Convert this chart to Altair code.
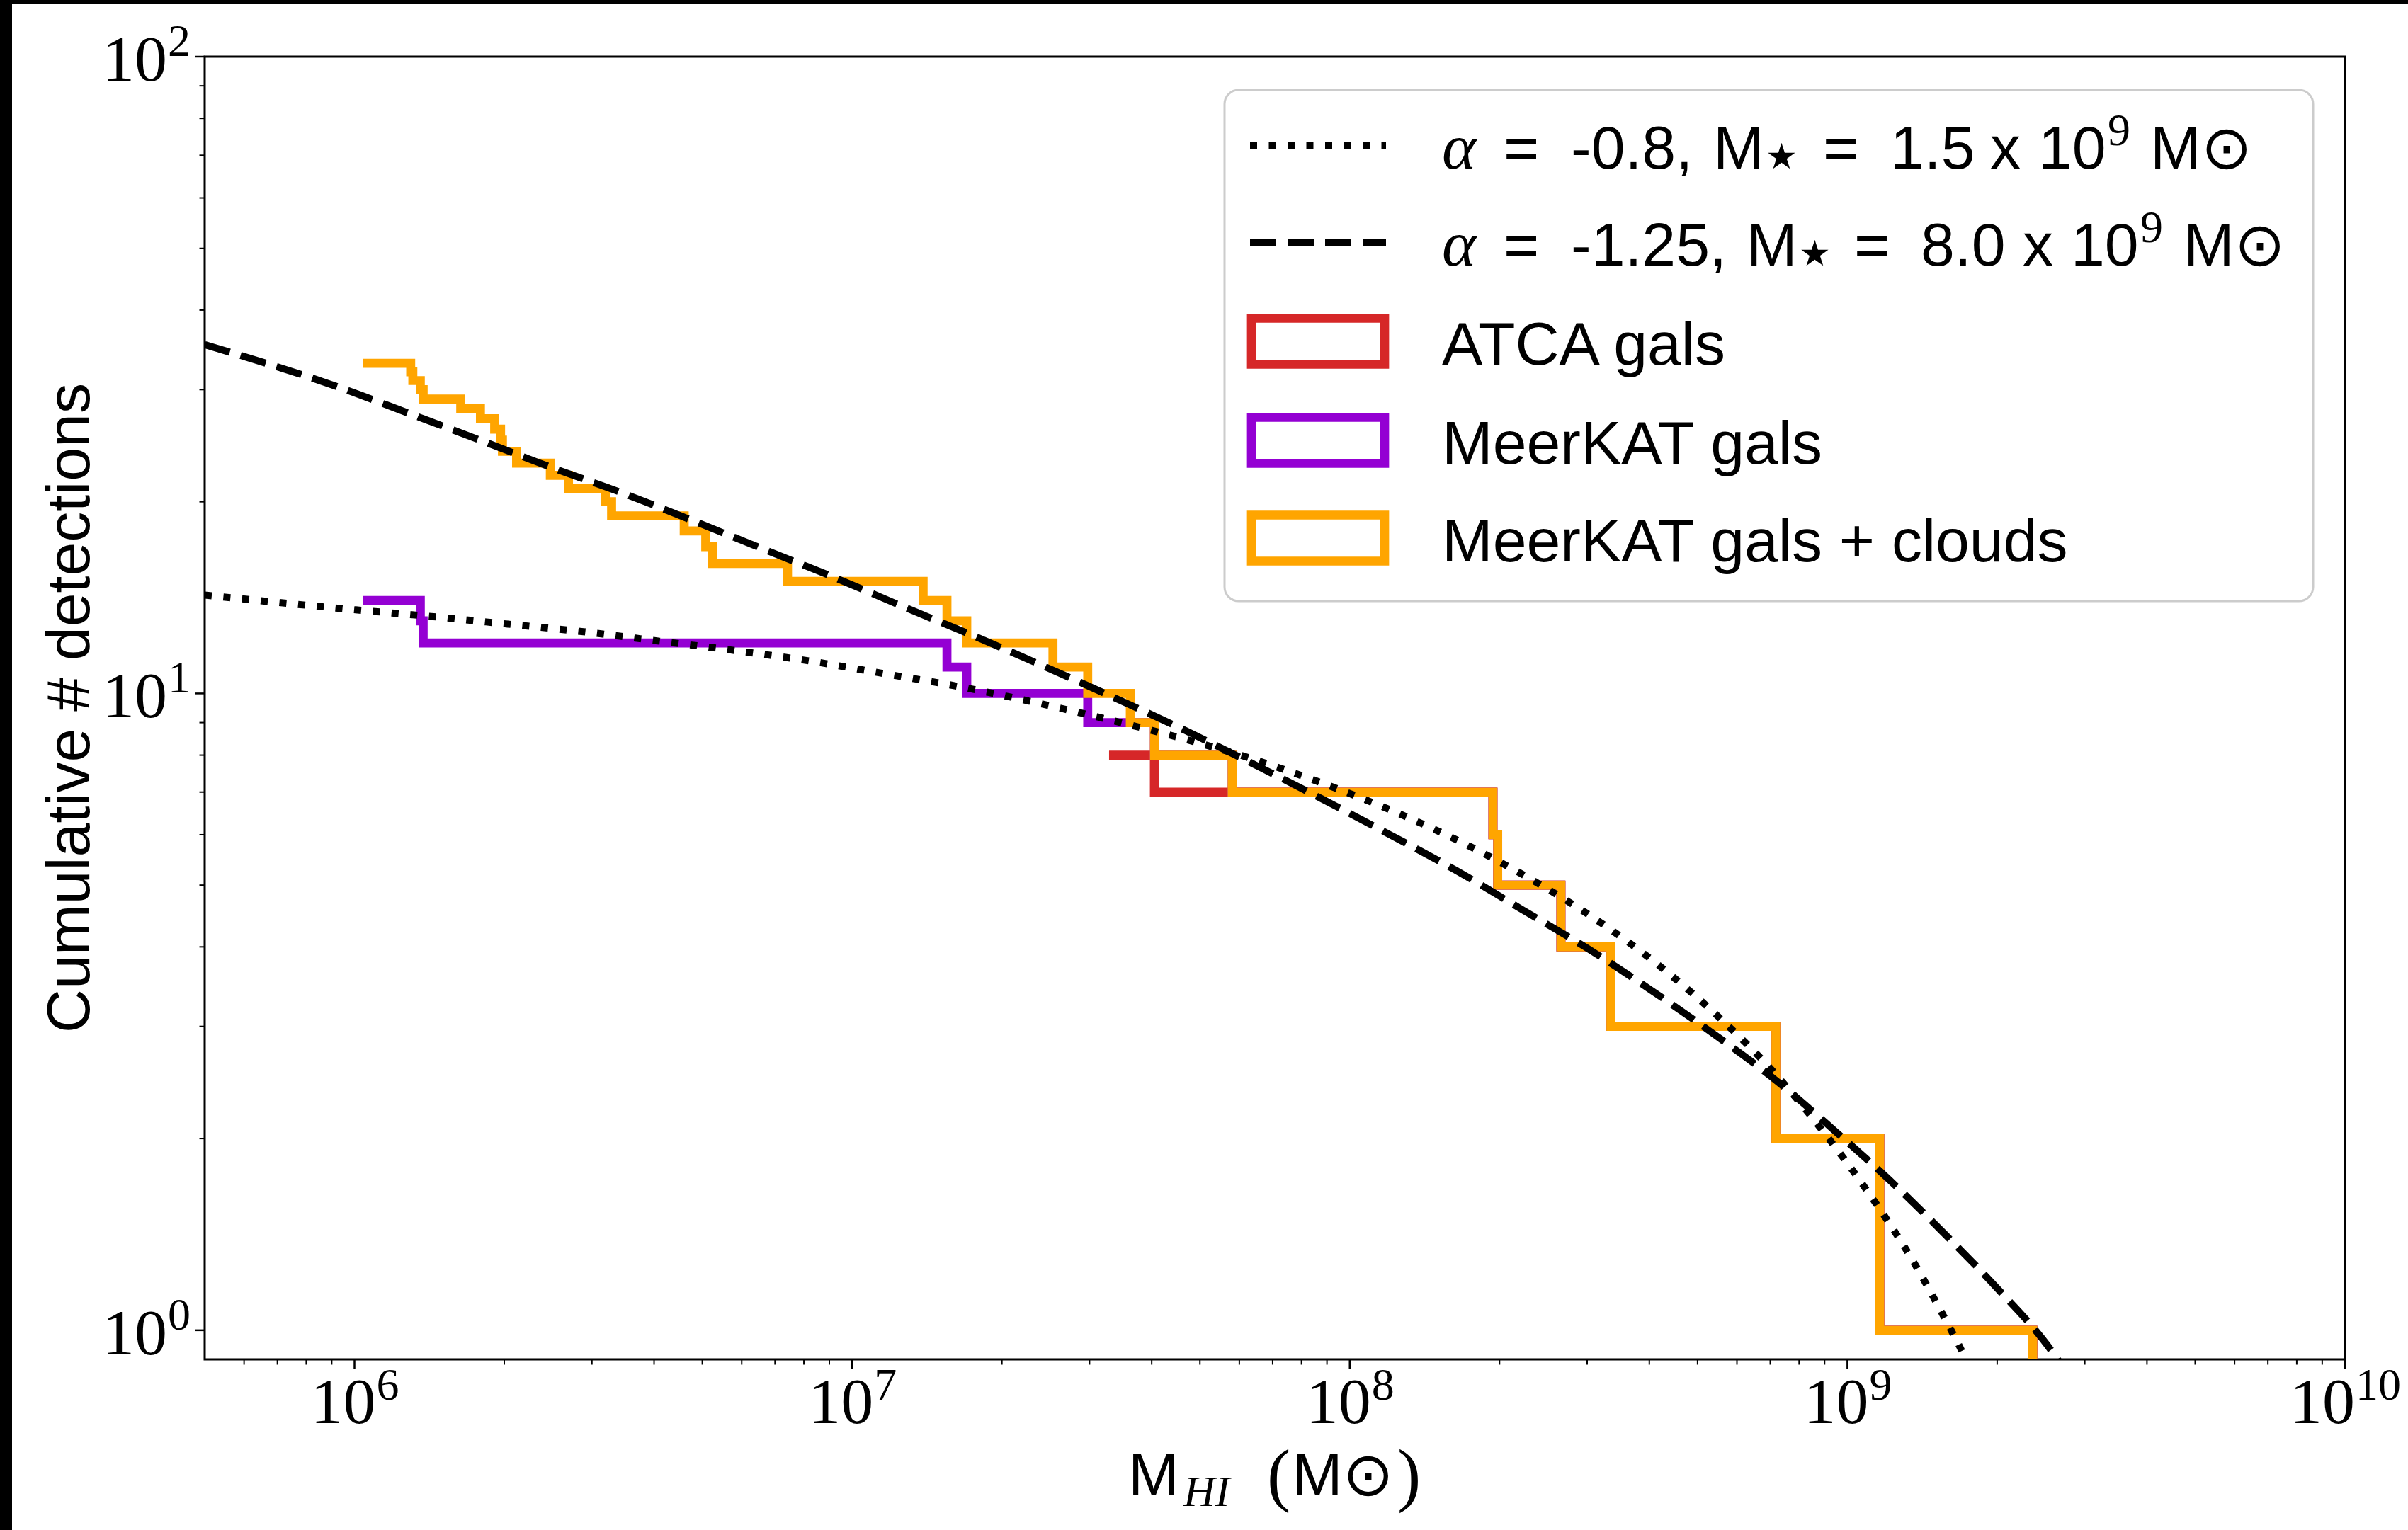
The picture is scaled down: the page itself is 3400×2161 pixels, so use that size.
import altair as alt
import pandas as pd

# ---------------------------------------------------------------------------
# Cumulative number of HI detections N(>M_HI).
# Each list holds the mass (M_sun) at which a count level begins, and the level.
# ---------------------------------------------------------------------------
clouds_mass = [1.04e6, 1.297e6, 1.31e6, 1.356e6, 1.374e6, 1.635e6, 1.791e6, 1.913e6,
               1.966e6, 1.983e6, 2.117e6, 2.475e6, 2.692e6, 3.198e6, 3.286e6, 4.598e6,
               5.08e6, 5.24e6, 7.417e6, 1.389e7, 1.551e7, 1.70e7, 2.533e7, 2.975e7,
               3.623e7, 4.05e7, 5.804e7, 1.94e8, 1.983e8, 2.657e8, 3.348e8, 7.184e8, 1.162e9]
clouds_count = [33, 32, 31, 30, 29, 28, 27, 26, 25, 24, 23, 22, 21, 20, 19, 18, 17,
                16, 15, 14, 13, 12, 11, 10, 9, 8, 7, 6, 5, 4, 3, 2, 1]

gals_mass = [1.04e6, 1.356e6, 1.374e6, 1.551e7, 1.70e7, 2.975e7, 4.05e7, 5.804e7,
             1.94e8, 1.983e8, 2.657e8, 3.348e8, 7.184e8, 1.162e9]
gals_count = [14, 13, 12, 11, 10, 9, 8, 7, 6, 5, 4, 3, 2, 1]

atca_mass = [3.284e7, 4.05e7, 1.94e8, 1.983e8, 2.657e8, 3.348e8, 7.184e8, 1.162e9]
atca_count = [8, 7, 6, 5, 4, 3, 2, 1]

# upper edge of the last (most massive) bin, shared by all three samples
last_edge = 2.359e9

# Schechter-function predictions (cumulative), sampled along each curve
dotted_mass = [5.0e5, 1.006e6, 1.426e6, 2.034e6, 2.884e6, 4.10e6, 5.81e6, 8.25e6,
               1.169e7, 1.654e7, 2.333e7, 3.291e7, 4.628e7, 6.477e7, 9.064e7, 1.254e8,
               1.730e8, 2.361e8, 3.188e8, 4.236e8, 5.523e8, 7.073e8, 8.868e8, 1.097e9,
               1.330e9, 1.579e9, 1.713e9, 1.76e9]
dotted_n = [14.27, 13.53, 13.21, 12.85, 12.50, 12.08, 11.68, 11.24, 10.73, 10.24, 9.68,
            9.09, 8.49, 7.86, 7.17, 6.48, 5.77, 5.06, 4.37, 3.71, 3.10, 2.555, 2.069,
            1.654, 1.316, 1.035, 0.914, 0.87]

dashed_mass = [5.0e5, 9.54e5, 1.285e6, 1.788e6, 2.491e6, 3.468e6, 4.817e6, 6.683e6,
               9.285e6, 1.280e7, 1.780e7, 2.456e7, 3.372e7, 4.667e7, 6.42e7, 8.76e7,
               1.200e8, 1.638e8, 2.217e8, 3.002e8, 4.033e8, 5.385e8, 7.131e8, 9.346e8,
               1.217e9, 1.565e9, 1.996e9, 2.516e9, 2.70e9]
dashed_n = [35.3, 30.05, 27.54, 24.99, 22.63, 20.62, 18.64, 16.81, 15.17, 13.64, 12.26,
            10.99, 9.84, 8.75, 7.74, 6.84, 6.01, 5.27, 4.58, 3.98, 3.42, 2.92, 2.48, 2.07,
            1.72, 1.419, 1.166, 0.950, 0.88]

# axis ticks
x_major = [1e6, 1e7, 1e8, 1e9, 1e10]
x_exp = ["6", "7", "8", "9", "10"]
y_major = [1, 10, 100]
y_exp = ["0", "1", "2"]
x_minor = [k * 10.0 ** e for e in range(5, 10) for k in range(2, 10) if 5e5 < k * 10.0 ** e < 1e10]
y_minor = [k * 10.0 ** e for e in range(0, 2) for k in range(2, 10)]

# legend text; the two model entries are set piece by piece (math-style)
model_pieces = [
    ["=", "-0.8,", "M", "★", "=", "1.5", "x", "10", "9", "M⊙"],
    ["=", "-1.25,", "M", "★", "=", "8.0", "x", "10", "9", "M⊙"],
]
sample_labels = ["ATCA gals", "MeerKAT gals", "MeerKAT gals + clouds"]

# ---------------------------------------------------------------------------
# Layout and styles
# ---------------------------------------------------------------------------
W, H = 3022, 1840
PAD = {"left": 289, "top": 80, "right": 89, "bottom": 241}
SANS = "Liberation Sans, DejaVu Sans, sans-serif"
SERIF = "Liberation Serif, DejaVu Serif, serif"
SYMB = "DejaVu Sans, sans-serif"
RED, PURPLE, ORANGE = "#d62728", "#9400d3", "#ffa500"
STEP_W = 12.7
CURVE_W = 10
DOT = [10, 16.5]
DASH = [37, 16]
FLOOR = 0.5  # counts drop to zero past the last bin; drawn to below the axis

# left edges (plot px) of the legend pieces above, per model row
piece_x = [
    [1834, 1929, 2130, 2204, 2285, 2380, 2521, 2589, 2687, 2747],
    [1834, 1929, 2177, 2251, 2329, 2423, 2567, 2635, 2733, 2794],
]

xs = alt.Scale(type="log", domain=[5e5, 1e10], nice=False)
ys = alt.Scale(type="log", domain=[0.9, 100], nice=False)


def X(f):
    return alt.X(f"{f}:Q", scale=xs, axis=None)


def Y(f):
    return alt.Y(f"{f}:Q", scale=ys, axis=None)


def step_frame(mass, count):
    m = list(mass) + [last_edge, last_edge]
    n = list(count) + [count[-1], FLOOR]
    return pd.DataFrame({"mass": m, "n": n, "i": range(len(m))})


def curve_frame(mass, n):
    return pd.DataFrame({"mass": mass, "n": n, "i": range(len(mass))})


one = pd.DataFrame({"k": [0]})


def label(text, x, y, font=SANS, size=86, style="normal"):
    return alt.Chart(one).mark_text(text=text, align="left", baseline="alphabetic",
                                    font=font, fontSize=size, fontStyle=style,
                                    color="black").encode(x=alt.value(x), y=alt.value(y))


layers = []

# dark strips along the top and left edges of the figure
layers.append(alt.Chart(one).mark_rect(color="black").encode(
    x=alt.value(-PAD["left"]), x2=alt.value(-PAD["left"] + 17),
    y=alt.value(-PAD["top"]), y2=alt.value(H + PAD["bottom"])))
layers.append(alt.Chart(one).mark_rect(color="black").encode(
    x=alt.value(-PAD["left"]), x2=alt.value(W + PAD["right"]),
    y=alt.value(-PAD["top"]), y2=alt.value(-PAD["top"] + 5)))

# cumulative step histograms
for mass, count, color in [(atca_mass, atca_count, RED),
                           (gals_mass, gals_count, PURPLE),
                           (clouds_mass, clouds_count, ORANGE)]:
    layers.append(alt.Chart(step_frame(mass, count)).mark_line(
        interpolate="step-after", color=color, strokeWidth=STEP_W,
        strokeJoin="miter", clip=True).encode(x=X("mass"), y=Y("n"), order="i:Q"))

# model curves
layers.append(alt.Chart(curve_frame(dotted_mass, dotted_n)).mark_line(
    interpolate="monotone", color="black", strokeWidth=CURVE_W, strokeDash=DOT,
    clip=True).encode(x=X("mass"), y=Y("n"), order="i:Q"))
layers.append(alt.Chart(curve_frame(dashed_mass, dashed_n)).mark_line(
    interpolate="monotone", color="black", strokeWidth=CURVE_W, strokeDash=DASH,
    clip=True).encode(x=X("mass"), y=Y("n"), order="i:Q"))

# ticks
layers.append(alt.Chart(pd.DataFrame({"v": x_major})).mark_rule(color="black", strokeWidth=2.5)
              .encode(x=X("v"), y=alt.value(H), y2=alt.value(H + 13)))
layers.append(alt.Chart(pd.DataFrame({"v": x_minor})).mark_rule(color="black", strokeWidth=2)
              .encode(x=X("v"), y=alt.value(H), y2=alt.value(H + 7.5)))
layers.append(alt.Chart(pd.DataFrame({"v": y_major})).mark_rule(color="black", strokeWidth=2.5)
              .encode(y=Y("v"), x=alt.value(-13), x2=alt.value(0)))
layers.append(alt.Chart(pd.DataFrame({"v": y_minor})).mark_rule(color="black", strokeWidth=2)
              .encode(y=Y("v"), x=alt.value(-7.5), x2=alt.value(0)))

# tick labels: "10" with a raised exponent, centred as a whole on the tick
xt = pd.DataFrame({"v": x_major, "exp": x_exp})
for digits, shift in [(1, 30), (2, 14)]:
    base = alt.Chart(xt).transform_filter(f"length(datum.exp) == {digits}")
    layers.append(base.mark_text(text="10", align="right", baseline="alphabetic", dx=shift,
                                 font=SERIF, fontSize=92, color="black")
                  .encode(x=X("v"), y=alt.value(H + 90)))
    layers.append(base.mark_text(align="left", baseline="alphabetic", dx=shift + 1,
                                 font=SERIF, fontSize=64, color="black")
                  .encode(x=X("v"), y=alt.value(H + 57), text="exp:N"))
yt = pd.DataFrame({"v": y_major, "exp": y_exp})
layers.append(alt.Chart(yt).mark_text(text="10", align="right", baseline="alphabetic", dy=34,
                                      font=SERIF, fontSize=92, color="black")
              .encode(y=Y("v"), x=alt.value(-53)))
layers.append(alt.Chart(yt).mark_text(align="left", baseline="alphabetic", dy=-1,
                                      font=SERIF, fontSize=64, color="black")
              .encode(y=Y("v"), x=alt.value(-52), text="exp:N"))

# axis titles
layers.append(alt.Chart(one).mark_text(text="Cumulative # detections", angle=270, align="center",
                                       baseline="alphabetic", font=SANS, fontSize=86, color="black")
              .encode(x=alt.value(-163), y=alt.value(H / 2)))
layers.append(label("M", 1304, 2032))
layers.append(label("HI", 1382, 2047, font=SERIF, size=62, style="italic"))
layers.append(label("(", 1500, 2036, font=SERIF, size=100))
layers.append(label("M⊙", 1535, 2032))
layers.append(label(")", 1684, 2036, font=SERIF, size=100))

# legend frame
LX0, LX1, LY0, LY1 = 1440, 2977, 47, 769
layers.append(alt.Chart(one).mark_rect(fill="white", stroke="#cccccc", strokeWidth=3,
                                       cornerRadius=20)
              .encode(x=alt.value(LX0), x2=alt.value(LX1), y=alt.value(LY0), y2=alt.value(LY1)))

# legend handles
HX0, HX1 = 1476, 1668
TX = 1747
rows_y = [125, 262, 402, 542, 680]
layers.append(alt.Chart(one).mark_rule(color="black", strokeWidth=CURVE_W, strokeDash=DOT)
              .encode(x=alt.value(HX0), x2=alt.value(HX1), y=alt.value(rows_y[0])))
layers.append(alt.Chart(one).mark_rule(color="black", strokeWidth=CURVE_W, strokeDash=DASH)
              .encode(x=alt.value(HX0), x2=alt.value(HX1), y=alt.value(rows_y[1])))
for yc, color in zip(rows_y[2:], [RED, PURPLE, ORANGE]):
    layers.append(alt.Chart(one).mark_rect(filled=False, stroke=color, strokeWidth=STEP_W,
                                           strokeJoin="miter")
                  .encode(x=alt.value(HX0 + 2), x2=alt.value(HX1 - 2),
                          y=alt.value(yc - 32.5), y2=alt.value(yc + 32.5)))

# legend text: model rows
for k in range(2):
    yb = rows_y[k] + 33
    layers.append(label("α", TX, yb, font=SERIF, size=92, style="italic"))
    for j, (txt, px) in enumerate(zip(model_pieces[k], piece_x[k])):
        if txt == "★":
            layers.append(label(txt, px, yb, font=SYMB, size=50))
        elif j == 8:  # exponent of the 10
            layers.append(label(txt, px, yb - 33, font=SERIF, size=64))
        else:
            layers.append(label(txt, px, yb))

# legend text: sample rows
for k, lab in enumerate(sample_labels):
    layers.append(label(lab, TX, rows_y[2 + k] + 33))

chart = (alt.layer(*layers)
         .properties(width=W, height=H, padding=PAD, autosize=alt.AutoSizeParams(type="none"))
         .configure(background="white")
         .configure_view(stroke="black", strokeWidth=3))

chart.save("out.html", embed_options={"renderer": "svg", "actions": False})
